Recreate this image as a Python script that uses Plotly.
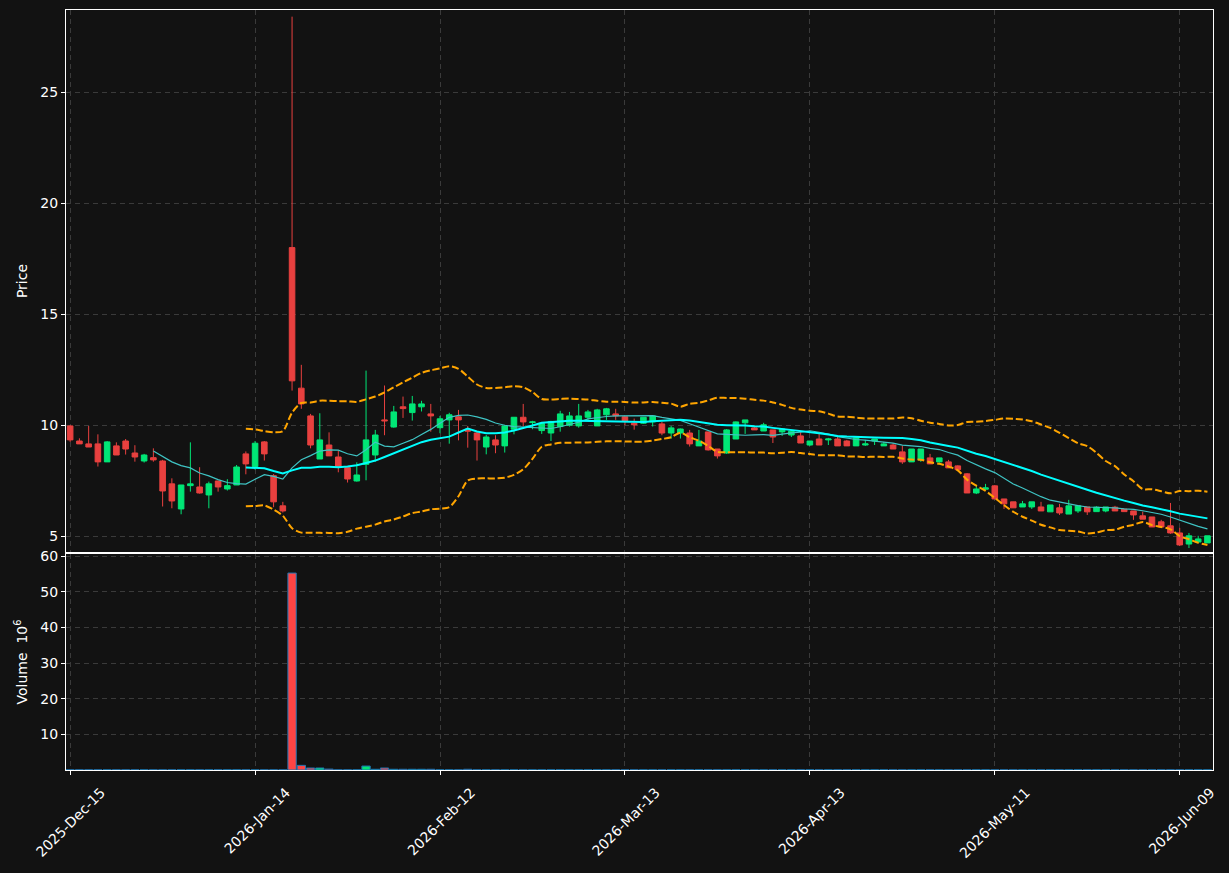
import pandas as pd
import plotly.graph_objects as go

# ---- data ----
tick_index = [0, 20, 40, 60, 80, 100, 120]
tick_labels = ["2025-Dec-15", "2026-Jan-14", "2026-Feb-12", "2026-Mar-13",
               "2026-Apr-13", "2026-May-11", "2026-Jun-09"]

opens = [9.97, 9.29, 9.16, 9.16, 8.35, 9.07, 9.29, 8.75, 8.39, 8.54,
         8.39, 7.36, 6.23, 7.28, 7.22, 6.86, 7.49, 7.13, 7.31, 8.71,
         8.14, 9.25, 7.73, 6.37, 18.0, 11.67, 10.42, 8.48, 9.11, 8.57,
         8.09, 7.49, 8.24, 8.66, 10.24, 9.92, 10.83, 10.57, 10.83, 10.51,
         9.89, 10.24, 10.38, 9.82, 9.65, 9.02, 9.34, 9.07, 9.82, 10.36,
         10.12, 9.76, 9.65, 9.94, 10.00, 9.97, 10.36, 9.97, 10.47, 10.51,
         10.38, 10.09, 10.09, 10.15, 10.06, 9.65, 9.65, 9.65, 9.07, 9.70,
         8.93, 8.75, 9.38, 10.11, 9.88, 9.74, 9.79, 9.70, 9.56, 9.52,
         9.11, 9.38, 9.34, 9.38, 9.29, 9.07, 9.11, 9.29, 9.07, 9.11,
         8.80, 8.35, 8.44, 8.53, 8.35, 8.35, 8.17, 7.81, 6.95, 7.12,
         7.27, 6.68, 6.55, 6.32, 6.32, 6.32, 6.10, 6.28, 6.00, 6.14,
         6.32, 6.11, 6.14, 6.31, 6.22, 6.14, 5.92, 5.87, 5.65, 5.47,
         5.15, 4.65, 4.74, 4.70]
highs = [10.0, 9.41, 9.97, 9.59, 9.29, 9.23, 9.38, 9.10, 8.71, 8.96,
         8.44, 7.61, 7.31, 9.23, 8.11, 7.46, 7.49, 7.57, 8.21, 8.82,
         9.29, 9.29, 7.80, 6.55, 28.4, 12.72, 10.51, 10.54, 9.68, 8.86,
         8.09, 8.33, 12.46, 9.79, 11.79, 10.87, 11.29, 11.32, 11.10, 10.96,
         10.42, 10.56, 10.69, 9.97, 9.70, 9.56, 9.55, 10.02, 10.36, 10.96,
         10.20, 10.10, 10.20, 10.65, 10.60, 10.96, 10.69, 10.74, 10.78, 10.74,
         10.38, 10.30, 10.36, 10.42, 10.15, 9.97, 9.85, 9.79, 9.79, 9.70,
         8.93, 9.83, 10.17, 10.24, 9.92, 10.11, 9.79, 9.85, 9.75, 9.70,
         9.29, 9.61, 9.43, 9.47, 9.34, 9.45, 9.34, 9.38, 9.25, 9.20,
         9.08, 8.93, 8.93, 8.71, 8.53, 8.44, 8.20, 7.85, 7.31, 7.36,
         7.31, 6.68, 6.55, 6.59, 6.55, 6.55, 6.41, 6.46, 6.64, 6.37,
         6.32, 6.35, 6.32, 6.37, 6.22, 6.14, 6.11, 5.87, 5.74, 6.50,
         5.38, 5.15, 5.02, 5.02]
lows = [9.25, 9.16, 9.02, 8.14, 8.35, 8.66, 8.68, 8.36, 8.32, 8.36,
        6.34, 6.26, 5.99, 7.01, 6.92, 6.26, 7.01, 7.06, 7.31, 7.79,
        8.00, 8.41, 6.31, 6.07, 11.56, 10.74, 8.96, 8.48, 8.62, 7.88,
        7.42, 7.46, 7.52, 8.36, 9.55, 9.89, 10.33, 10.21, 10.62, 9.71,
        9.64, 9.17, 9.32, 8.99, 8.41, 8.69, 8.74, 8.77, 9.59, 9.94,
        9.82, 9.61, 9.29, 9.71, 9.94, 9.89, 10.21, 9.97, 10.24, 10.24,
        10.00, 9.80, 10.06, 9.94, 9.55, 9.40, 9.40, 9.04, 9.07, 8.86,
        8.50, 8.71, 9.38, 9.61, 9.79, 9.74, 9.20, 9.52, 9.47, 9.20,
        9.07, 9.11, 9.11, 9.07, 9.07, 9.07, 9.07, 9.11, 9.07, 8.93,
        8.26, 8.35, 8.35, 8.26, 8.32, 8.08, 8.00, 6.95, 6.90, 7.09,
        6.68, 6.23, 6.28, 6.32, 6.23, 6.14, 6.10, 5.96, 6.00, 6.05,
        5.96, 6.11, 6.08, 6.14, 6.11, 5.74, 5.77, 5.42, 5.42, 5.11,
        4.56, 4.47, 4.74, 4.70]
closes = [9.34, 9.16, 9.02, 8.35, 9.25, 8.66, 8.93, 8.57, 8.66, 8.44,
          7.04, 6.59, 7.31, 7.36, 6.95, 7.36, 7.22, 7.28, 8.12, 8.26,
          9.19, 8.71, 6.55, 6.14, 12.0, 10.96, 9.11, 9.34, 8.62, 8.14,
          7.58, 7.76, 9.34, 9.56, 10.20, 10.60, 10.75, 10.96, 10.96, 10.42,
          10.29, 10.47, 10.24, 9.73, 9.34, 9.47, 9.11, 9.97, 10.36, 10.15,
          10.15, 10.08, 10.17, 10.51, 10.42, 10.42, 10.60, 10.69, 10.74, 10.42,
          10.20, 10.02, 10.36, 10.42, 9.65, 9.88, 9.83, 9.16, 9.29, 8.89,
          8.62, 9.79, 10.15, 10.24, 9.79, 10.02, 9.47, 9.83, 9.73, 9.20,
          9.29, 9.11, 9.38, 9.07, 9.07, 9.43, 9.16, 9.38, 9.16, 8.93,
          8.35, 8.93, 8.93, 8.26, 8.53, 8.08, 8.00, 6.95, 7.13, 7.18,
          6.68, 6.46, 6.28, 6.46, 6.55, 6.14, 6.41, 6.05, 6.37, 6.37,
          6.10, 6.31, 6.32, 6.14, 6.11, 5.96, 5.77, 5.42, 5.42, 5.15,
          4.61, 5.02, 4.88, 5.02]
volumes_m = [0.03] * 24 + [55.25, 1.3, 0.56, 0.56, 0.25, 0.03, 0.03, 0.03, 1.1, 0.2,
                           0.56, 0.2, 0.2, 0.2, 0.2, 0.2, 0.03, 0.03, 0.03, 0.2] + [0.03] * 80

# ---- derived series ----
n = len(closes)
xs = list(range(n))
cs = pd.Series(closes)
ma_short = cs.rolling(10).mean()
ma_long = cs.rolling(20).mean()
sd = cs.rolling(20).std()
bb_up = ma_long + 2 * sd
bb_dn = ma_long - 2 * sd

UP = "#00e676"
DOWN = "#e8403f"
BG = "#121212"
GRID = "#3a3a3a"

fig = go.Figure()
fig.add_trace(go.Candlestick(
    x=xs, open=opens, high=highs, low=lows, close=closes,
    increasing=dict(line=dict(color=UP, width=1), fillcolor=UP),
    decreasing=dict(line=dict(color=DOWN, width=1), fillcolor=DOWN),
    whiskerwidth=0, xaxis="x", yaxis="y", showlegend=False, hoverinfo="skip"))

fig.add_trace(go.Scatter(x=xs, y=ma_short, mode="lines",
                         line=dict(color="#3fc4c4", width=1.2),
                         xaxis="x", yaxis="y", showlegend=False, hoverinfo="skip"))
fig.add_trace(go.Scatter(x=xs, y=ma_long, mode="lines",
                         line=dict(color="#00ffff", width=2),
                         xaxis="x", yaxis="y", showlegend=False, hoverinfo="skip"))
for band in (bb_up, bb_dn):
    fig.add_trace(go.Scatter(x=xs, y=band, mode="lines",
                             line=dict(color="#ffa500", width=2, dash="7px,3px", shape="spline", smoothing=0.8),
                             xaxis="x", yaxis="y", showlegend=False, hoverinfo="skip"))

vol_colors = [UP if c >= o else "#ff4444" for o, c in zip(opens, closes)]
fig.add_trace(go.Bar(x=xs, y=volumes_m, width=0.9,
                     marker=dict(color=vol_colors, line=dict(color="#1f77b4", width=1)),
                     xaxis="x2", yaxis="y2", showlegend=False, hoverinfo="skip"))

axis_common = dict(showline=True, linecolor="white", linewidth=1, mirror=True,
                   gridcolor=GRID, griddash="5px,4px", gridwidth=1,
                   ticks="outside", tickcolor="white", ticklen=4,
                   tickfont=dict(color="white", size=14, family="DejaVu Sans"),
                   zeroline=False, automargin=False)

fig.update_layout(
    width=1229, height=873,
    margin=dict(l=66, r=16, t=10, b=103),
    paper_bgcolor=BG, plot_bgcolor=BG,
    boxgap=0.14, boxgroupgap=0.3,
    bargap=0.1,
    xaxis=dict(domain=[0, 1], range=[-0.45, 123.6], anchor="y",
               tickvals=tick_index, ticktext=[""] * len(tick_index),
               rangeslider=dict(visible=False), **axis_common),
    yaxis=dict(domain=[0.2868, 1], range=[4.29, 28.7], anchor="x",
               tickvals=[5, 10, 15, 20, 25],
               title=dict(text="Price", font=dict(color="white", size=14, family="DejaVu Sans"), standoff=9),
               **axis_common),
    xaxis2=dict(domain=[0, 1], range=[-0.45, 123.6], anchor="y2", matches="x",
                tickvals=tick_index, ticktext=tick_labels, tickangle=-45,
                ticklabelshift=31, ticklabelstandoff=4,
                **axis_common),
    yaxis2=dict(domain=[0, 0.2842], range=[0, 60.6], anchor="x2",
                tickvals=[10, 20, 30, 40, 50, 60],
                title=dict(text="Volume  10<sup>6</sup>", font=dict(color="white", size=14, family="DejaVu Sans"), standoff=9),
                **axis_common),
)

fig.write_html("out.html")
